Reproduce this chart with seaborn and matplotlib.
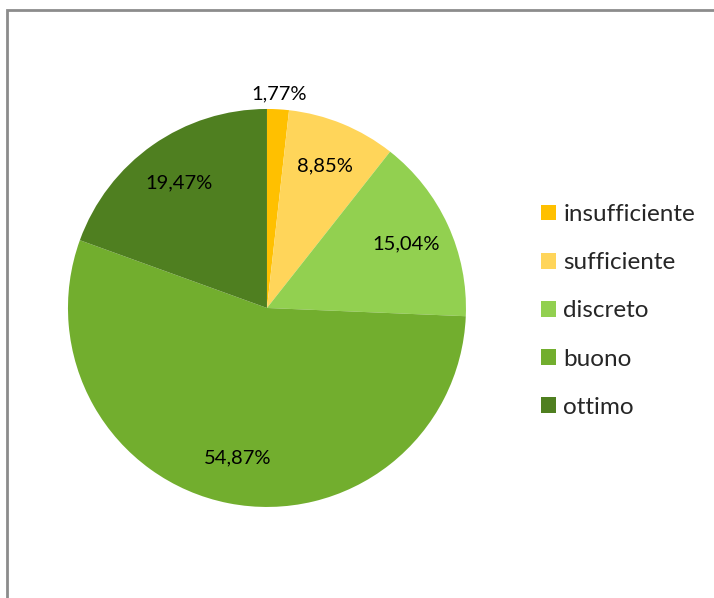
import matplotlib
matplotlib.use("Agg")
import matplotlib.pyplot as plt
from matplotlib.patches import Rectangle, Patch
import numpy as np
import seaborn as sns

# Distribution of ratings (percent)
categories = ["insufficiente", "sufficiente", "discreto", "buono", "ottimo"]
values = [1.77, 8.85, 15.04, 54.87, 19.47]
colors = ["#FFC000", "#FFD55A", "#92D050", "#72AE2E", "#4F7F20"]

sns.set_theme(style="white")
plt.rcParams["font.family"] = ["Lato", "DejaVu Sans"]

fig = plt.figure(figsize=(7.14, 5.98), dpi=100)
fig.patch.set_facecolor("white")

# Chart frame (continues past the right and bottom edges)
fig.patches.append(Rectangle((6.5 / 714, -0.1), 1.2, 1 - 9.5 / 598 + 0.1,
                             transform=fig.transFigure, fill=False,
                             edgecolor="#8C8C8C", linewidth=2.0, zorder=0))

ax = fig.add_axes([0.0952, 0.1522, 0.5574, 0.6656])
wedges, texts, autotexts = ax.pie(
    values, colors=colors, startangle=90, counterclock=False,
    autopct=lambda p: f"{p:.2f}%".replace(".", ","), pctdistance=0.77,
    wedgeprops=dict(linewidth=0), textprops=dict(fontsize=14.5, color="#000000"))
ax.set_aspect("equal")
ax.set_xlim(-1, 1)
ax.set_ylim(-1, 1)

# Push the smallest slice's label outside the pie
w = wedges[0]
theta = np.deg2rad((w.theta1 + w.theta2) / 2)
autotexts[0].set_position((1.08 * np.cos(theta), 1.08 * np.sin(theta)))

handles = [Patch(facecolor=c, edgecolor="none") for c in colors]
fig.legend(handles, categories, loc="upper left",
           bbox_to_anchor=(541 / 714, 1 - 204 / 598), frameon=False,
           fontsize=17.5, labelcolor="#262626", handlelength=0.62,
           handleheight=0.62, handletextpad=0.3, labelspacing=1.12,
           borderaxespad=0, borderpad=0)

fig.savefig("out.png", dpi=100, facecolor="white")
